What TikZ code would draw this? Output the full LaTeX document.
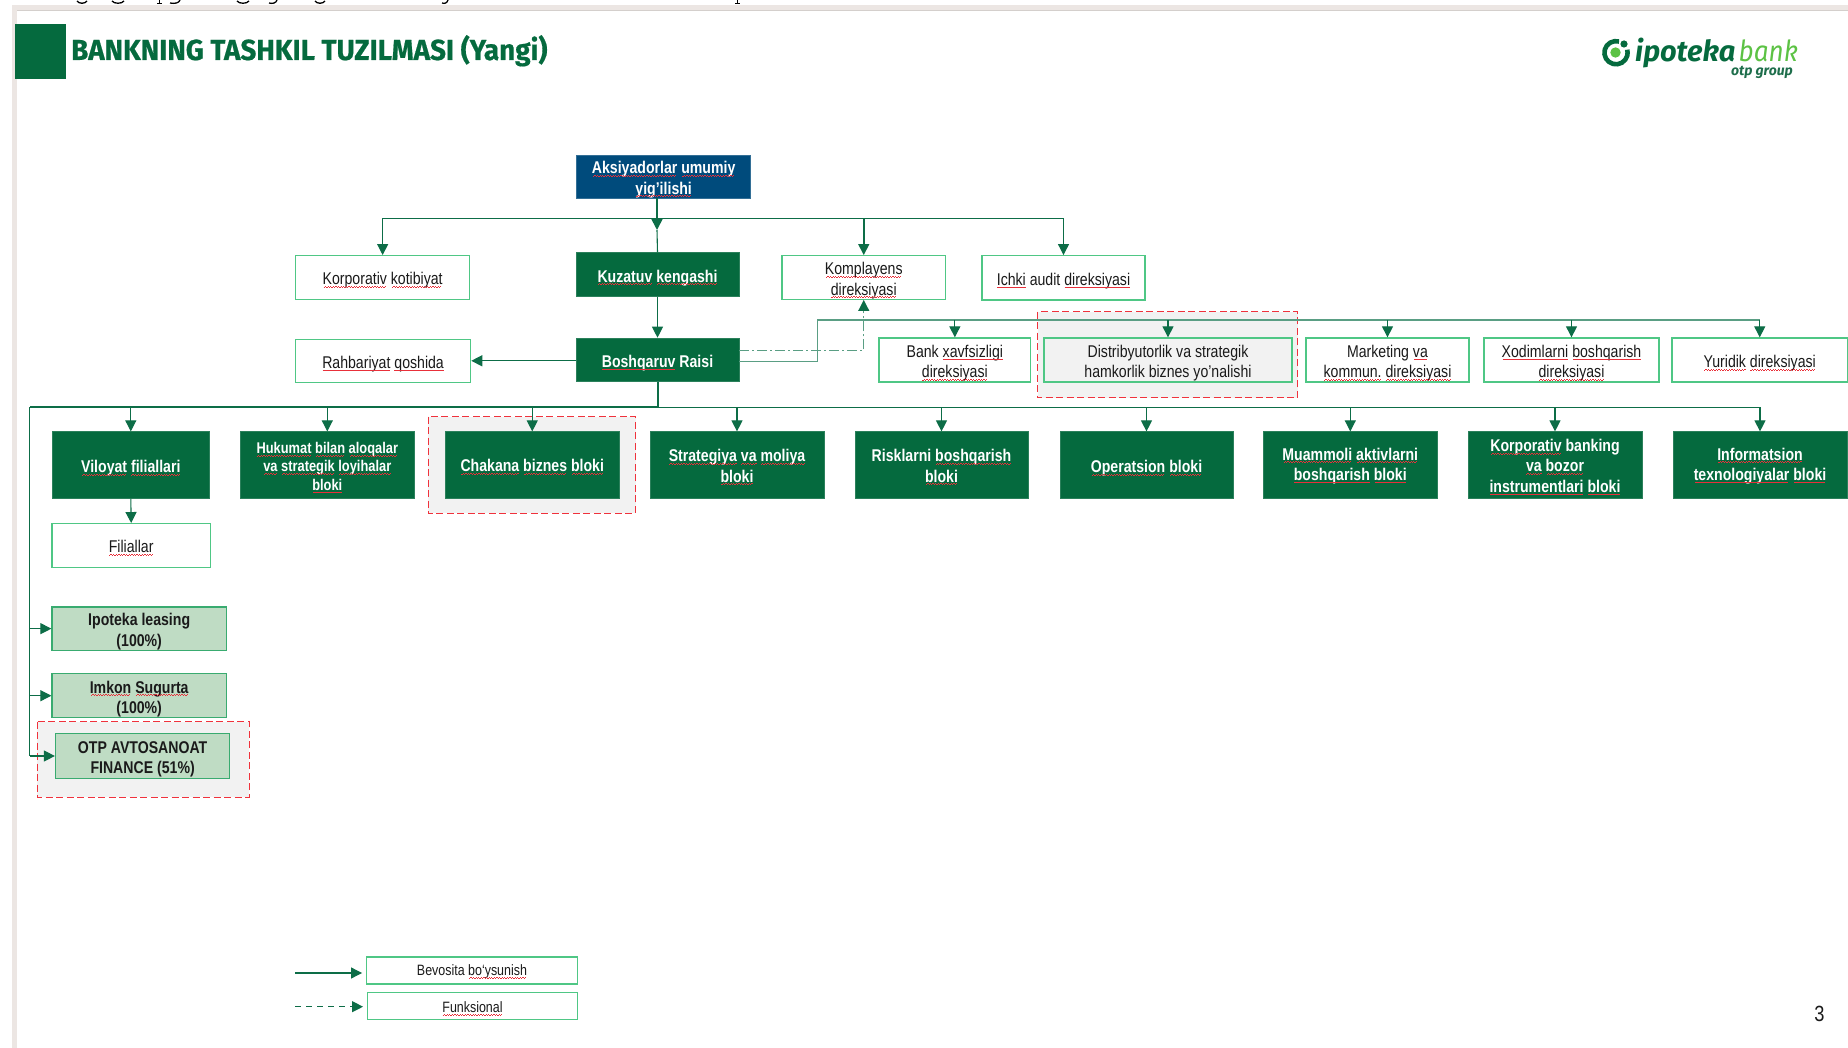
\documentclass[tikz,border=0pt]{standalone}
\usepackage{fontspec}
\usetikzlibrary{arrows.meta}
\setmainfont[FakeStretch=0.83]{Liberation Sans}
\newfontfamily\titlefont[FakeStretch=0.96,FakeBold=0.6]{Fira Sans}
\newfontfamily\logofont{Fira Sans}
\newfontfamily\logofontB[FakeStretch=0.9]{Fira Sans}
\definecolor{gDark}{HTML}{056A3E}
\definecolor{gLine}{HTML}{0D6D47}
\definecolor{gSoft}{HTML}{5A9E84}
\definecolor{gEdge}{HTML}{4FC785}
\definecolor{gPale}{HTML}{BFDCC4}
\definecolor{gLime}{HTML}{5CC244}
\definecolor{navy}{HTML}{004B7C}
\definecolor{panelGrey}{HTML}{F2F2F2}
\definecolor{frameTone}{HTML}{ECE6E3}
\definecolor{dashRed}{HTML}{F0323C}
\definecolor{squig}{HTML}{E8303A}
\definecolor{inkTone}{HTML}{1A1A1A}
\newlength\sqw
\newcommand\bxh{18.5pt}
\newcommand\sq[1]{\leavevmode\settowidth\sqw{#1}\rlap{#1}\smash{\rlap{\lower2.8pt\hbox to\sqw{\color{squig}\cleaders\hbox{\rule[0pt]{1.3pt}{.7pt}\rule[.8pt]{1.3pt}{.7pt}}\hfil}}}\kern\sqw\relax}
\newcommand\bx[7]{\node[#2,minimum width={(#5-#3)*1pt},minimum height={(#6-#4)*1pt}] (#1) at ({(#3+#5)/2},{(#4+#6)/2}) {\rule{0pt}{\bxh}#7};}
\tikzset{
 basebox/.style={rectangle,inner sep=0pt,align=center,font=\fontsize{17}{20.3}\selectfont},
 whitebox/.style={basebox,draw=gEdge,line width=1.3pt,fill=white,text=inkTone},
 greybox/.style={whitebox,fill=panelGrey},
 darkbox/.style={basebox,draw=gDark!85!white,line width=.6pt,fill=gDark,text=white,font=\fontsize{17}{20.3}\selectfont\bfseries},
 navybox/.style={darkbox,fill=navy,draw=navy!80!white},
 palebox/.style={basebox,draw=gEdge!70!gDark,line width=1.2pt,fill=gPale,text=inkTone,font=\fontsize{17}{20.3}\selectfont\bfseries},
 legendbox/.style={whitebox,font=\fontsize{15}{17}\selectfont},
 panel/.style={draw=dashRed,line width=1pt,fill=panelGrey,dash pattern=on 7pt off 3.5pt},
 link/.style={draw=gLine,line width=1.1pt},
 softlink/.style={draw=gSoft,line width=1.5pt},
 mainlink/.style={draw=gLine,line width=2pt},
 arr/.style={draw=gLine,line width=1.1pt,-{Triangle[width=11pt,length=11pt,fill=gLine,color=gLine]}},
 dasharr/.style={arr,draw=gSoft,line width=1pt,dash pattern=on 10pt off 3pt on 2pt off 3pt},
 legdash/.style={arr,dash pattern=on 6pt off 5pt},
 crumb/.style={draw=black,line width=1.3pt},
}
\begin{document}
\begin{tikzpicture}[x=1pt,y=-1pt]
\useasboundingbox (0,0) rectangle (1848,1048);
% page frame
\fill[frameTone] (12,5) rectangle (1848,11);
\fill[frameTone] (12,5) rectangle (16.5,1048);
\fill[frameTone!90!black] (16.5,10) rectangle (1848,11);
% cut-off line above the slide
\draw[crumb] (77,1) .. controls (79,4) and (85,4) .. (87,1);
\draw[crumb] (112,1) .. controls (114,4) and (122,4) .. (124,1);
\draw[crumb] (157,3.5) -- (162,3.5) (159.5,0) -- (159.5,3.5);
\draw[crumb] (180,0) .. controls (179,3) and (175,4) .. (170,3);
\draw[crumb] (237,1) .. controls (239,4) and (247,4) .. (249,1);
\draw[crumb] (277,0) .. controls (276,3) and (273,4) .. (269,3);
\draw[crumb] (315,1) .. controls (317,4) and (323,4) .. (325,1);
\draw[crumb] (448,0) .. controls (447,3) and (445,4) .. (442,3);
\draw[crumb] (735,3.5) -- (740,3.5) (737.5,0) -- (737.5,3.5);
% title
\fill[gDark] (15,24) rectangle (66,79);
\node[anchor=base west,inner sep=0pt,text=gDark] (title) at (71,60) {\titlefont\fontsize{29}{30}\selectfont\bfseries BANKNING TASHKIL TUZILMASI (Yangi)};
% logo
\draw[gDark,line width=4.6pt] ([shift={(1616,52.7)}]-75:11.6) arc[start angle=-75,end angle=-375,radius=11.6];
\fill[gDark] (1624,44) circle[radius=3.6];
\fill[gLime] (1615.5,52.5) circle[radius=5.2];
\node[anchor=base west,inner sep=0pt,text=gDark] (logoa) at (1635,62) {\logofont\fontsize{29}{30}\selectfont\bfseries\itshape ipoteka};
\node[anchor=base west,inner sep=0pt,text=gLime] (logob) at (1738.5,62) {\logofontB\fontsize{29}{30}\selectfont\itshape bank};
\node[anchor=base east,inner sep=0pt,text=gDark!80!gray] (logoc) at (1793,76) {\logofont\fontsize{14}{15}\selectfont\bfseries\itshape otp group};
% dashed panels
\draw[panel] (1037.5,311.7) rectangle (1297.7,398);
\draw[panel] (428,416.7) rectangle (635.5,513.3);
\draw[panel] (37,721.7) rectangle (249,797);
% guide coordinates
\coordinate (busA) at (658,218.3);
\coordinate (aksiTip) at (657,230);
\coordinate (upL) at (817.5,320);
\coordinate (upR) at (1759.6,320);
\coordinate (busL) at (658,407.5);
\coordinate (busR) at (1760,407.5);
\coordinate (trunkT) at (29.5,407.5);
\coordinate (trunkB) at (29.5,756);
\coordinate (legA) at (295.3,973);
\coordinate (legB) at (295.3,1006.7);
% boxes
\bx{aksi}{navybox}{576.7}{155}{750.6}{198}{\sq{Aksiyadorlar} \sq{umumiy}\\\sq{yig'ilishi}}
\bx{kor}{whitebox}{295.5}{255.7}{469.8}{299.3}{\sq{Korporativ} \sq{kotibiyat}}
\bx{kuz}{darkbox}{576}{252.7}{739}{296.7}{\sq{Kuzatuv} \sq{kengashi}}
\bx{komp}{whitebox}{782}{255.7}{945.5}{299.3}{\sq{Komplayens}\\\sq{direksiyasi}}
\bx{ich}{whitebox}{982}{255.7}{1145}{300}{\sq{Ichki} audit \sq{direksiyasi}}
\bx{rah}{whitebox}{295.5}{339.3}{470.6}{382.3}{\sq{Rahbariyat} \sq{qoshida}}
\bx{bosh}{darkbox}{576}{338}{739}{381.7}{\sq{Boshqaruv} Raisi}
\bx{bank}{whitebox}{879}{338}{1030.7}{382}{Bank \sq{xavfsizligi}\\\sq{direksiyasi}}
\bx{dist}{greybox}{1044}{338}{1292}{382}{Distribyutorlik va strategik\\hamkorlik biznes yo'nalishi}
\bx{mark}{whitebox}{1306}{338}{1469}{382}{Marketing \sq{va}\\\sq{kommun.} \sq{direksiyasi}}
\bx{xod}{whitebox}{1484}{338}{1659}{382}{\sq{Xodimlarni} \sq{boshqarish}\\\sq{direksiyasi}}
\bx{yur}{whitebox}{1672}{338}{1847.5}{382}{\sq{Yuridik} \sq{direksiyasi}}
\bx{vil}{darkbox}{52}{431.7}{209.6}{498.3}{\sq{Viloyat} \sq{filiallari}}
\bx{oper}{darkbox}{1060}{431.7}{1233}{498.3}{\sq{Operatsion} \sq{bloki}}
\bx{ipo}{palebox}{52}{607}{226.4}{650.3}{Ipoteka leasing\\(100\%)}
\bx{imk}{palebox}{52}{673.7}{226.4}{717.7}{\sq{Imkon} \sq{Sugurta}\\(100\%)}
\bx{otp}{palebox}{55.5}{733.3}{229.8}{778.7}{OTP AVTOSANOAT\\FINANCE (51\%)}
\renewcommand\bxh{14pt}
\bx{huk}{darkbox,font=\fontsize{15.5}{18.3}\selectfont\bfseries}{240}{431.7}{414.6}{498.3}{\sq{Hukumat} \sq{bilan} \sq{aloqalar}\\\sq{va} \sq{strategik} \sq{loyihalar}\\\sq{bloki}}
\bx{chak}{darkbox}{445}{431.7}{619.5}{498.3}{\sq{Chakana} \sq{biznes} \sq{bloki}}
\bx{strat}{darkbox}{650}{431.7}{824}{498.3}{\sq{Strategiya} \sq{va} \sq{moliya}\\\sq{bloki}}
\bx{risk}{darkbox}{855}{431.7}{1028}{498.3}{Risklarni \sq{boshqarish}\\\sq{bloki}}
\bx{muam}{darkbox}{1263.6}{431.7}{1437}{498.3}{\sq{Muammoli} \sq{aktivlarni}\\\sq{boshqarish} \sq{bloki}}
\bx{korp}{darkbox}{1468}{431.7}{1642}{498.3}{\sq{Korporativ} banking\\\sq{va} \sq{bozor}\\\sq{instrumentlari} \sq{bloki}}
\bx{info}{darkbox}{1673}{431.7}{1847}{498.3}{\sq{Informatsion}\\\sq{texnologiyalar} \sq{bloki}}
\bx{fil}{whitebox}{52}{523.7}{210.4}{567.3}{\sq{Filiallar}}
\renewcommand\bxh{13pt}
\bx{lgA}{legendbox}{366.7}{957}{577.3}{984}{Bevosita \sq{bo‘ysunish}}
\bx{lgB}{legendbox}{367.7}{992.7}{577.3}{1019.3}{\sq{Funksional}}
% connectors: top of the chart
\draw[link] (kor.north |- busA) -- (ich.north |- busA);
\draw[arr,line width=1.6pt] (aksi.south -| aksiTip) -- (aksiTip);
\draw[link] (aksiTip) -- (kuz.north);
\draw[arr] (kor.north |- busA) -- (kor.north);
\draw[arr,line width=1.5pt] (komp.north |- busA) -- (komp.north);
\draw[arr] (ich.north |- busA) -- (ich.north);
\draw[arr] (kuz.south) -- (bosh.north);
\draw[arr,line width=1.4pt] (bosh.west |- rah.east) -- (rah.east);
% connectors: staff row
\draw[softlink] ([yshift=-1.8pt]bosh.east) -| (upL) -- (upR);
\draw[dasharr] ([yshift=8.85pt]bosh.east) -| (komp.south);
\draw[arr] (bank.north |- upL) -- (bank.north);
\draw[arr] (dist.north |- upL) -- (dist.north);
\draw[arr] (mark.north |- upL) -- (mark.north);
\draw[arr] (xod.north |- upL) -- (xod.north);
\draw[arr] (yur.north |- upL) -- (yur.north);
% connectors: block row
\draw[link] (busL) -- (busR);
\draw[mainlink] (bosh.south) |- (trunkT);
\draw[softlink,draw=gLine,line width=1.5pt] (trunkT) -- (trunkB);
\draw[arr] (vil.north |- busL) -- (vil.north);
\draw[arr] (huk.north |- busL) -- (huk.north);
\draw[arr] (chak.north |- busL) -- (chak.north);
\draw[arr] (strat.north |- busL) -- (strat.north);
\draw[arr] (risk.north |- busL) -- (risk.north);
\draw[arr] (oper.north |- busL) -- (oper.north);
\draw[arr] (muam.north |- busL) -- (muam.north);
\draw[arr] (korp.north |- busL) -- (korp.north);
\draw[arr] (info.north |- busL) -- (info.north);
\draw[arr] (vil.south) -- (fil.north);
\draw[arr] (trunkT |- ipo.west) -- (ipo.west);
\draw[arr] (trunkT |- imk.west) -- (imk.west);
\draw[arr] (trunkT |- otp.west) -- (otp.west);
% legend
\draw[arr,shorten >=4pt] (legA) -- (legA -| lgA.west);
\draw[legdash,shorten >=4pt] (legB) -- (legB -| lgB.west);
% page number
\node[inkTone,inner sep=0pt,font=\fontsize{22}{24}\selectfont] (pagenum) at (1819.5,1014) {3};
\end{tikzpicture}
\end{document}
